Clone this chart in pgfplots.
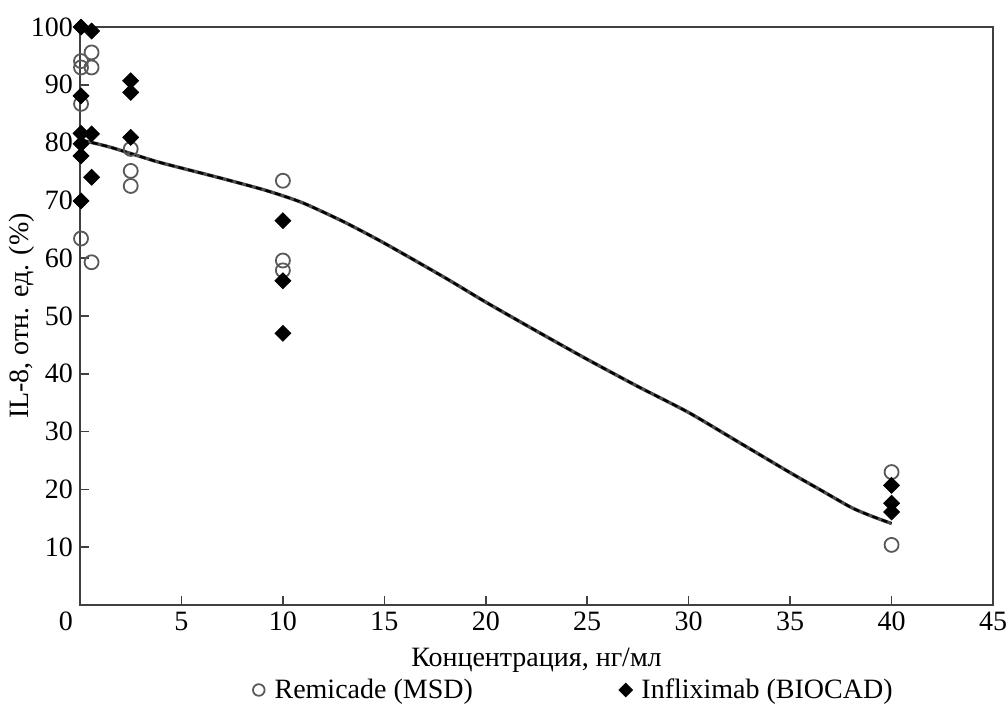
\documentclass[border=0pt]{standalone}
\usepackage{fontspec}
\setmainfont{Liberation Serif}
\usepackage{pgfplots}
\pgfplotsset{compat=1.18}

\begin{document}
\begin{tikzpicture}
\begin{axis}[
  name=ax,
  scale only axis,
  width=456.5pt, height=289pt,
  xmin=0, xmax=45, ymin=0, ymax=100,
  xtick={0,5,...,45},
  xticklabels={\makebox[0pt][r]{0\kern3.5pt},5,10,15,20,25,30,35,40,45},
  ytick={10,20,...,100},
  tick align=inside,
  tick pos=left,
  major tick length=4.5pt,
  axis line style={black!75, line width=0.8pt},
  every tick/.style={black!75, line width=0.8pt},
  font=\fontsize{14pt}{16pt}\selectfont,
  /pgf/number format/assume math mode=true,
  xlabel={Концентрация, нг/мл},
  ylabel={IL-8, отн. ед. (\%)},
  xlabel style={at={(axis description cs:0.5,-0.095)}, anchor=center},
  ylabel style={at={(axis description cs:-0.0635,0.5)}, anchor=center},
  legend columns=2,
  legend style={at={(axis description cs:0.5387,-0.147)}, anchor=center,
    draw=none, fill=none,
    /tikz/every even column/.append style={column sep=68.5pt}},
  legend image code/.code={%
    \path (0cm,0cm) (0.40cm,0cm);
    \draw[mark repeat=2,mark phase=2,#1] plot coordinates {(0cm,0cm) (0.20cm,0cm) (0.40cm,0cm)};},
  clip=false,
]

% Remicade (MSD)
\addplot[forget plot, only marks, mark=o, mark size=3.5pt,
  mark options={draw=black!65, line width=0.9pt}] coordinates {
  (0.05,94.1) (0.05,93.0) (0.05,86.7) (0.05,63.4)
  (0.57,95.6) (0.57,93.0) (0.57,59.3)
  (2.5,78.9) (2.5,75.1) (2.5,72.5)
  (10,73.4) (10,59.6) (10,57.9)
  (40,23.0) (40,10.4)
};

% Infliximab (BIOCAD)
\addplot[forget plot, only marks, mark=square*, mark size=2.8pt,
  mark options={rotate=45, fill=black, draw=black}] coordinates {
  (0.05,100) (0.05,88.1) (0.05,81.6) (0.05,79.8) (0.05,77.7) (0.05,69.9)
  (0.57,99.3) (0.57,81.5) (0.57,74.0)
  (2.5,90.7) (2.5,88.7) (2.5,80.9)
  (10,66.5) (10,56.1) (10,47.0)
  (40,20.7) (40,17.6) (40,16.1)
};

% fitted dose-response curves (two nearly coincident fits)
\addplot[forget plot, smooth, tension=0.4, black!70, line width=1.7pt] coordinates {
  (0.1,80.4) (1.5,79.2) (3.7,76.8) (5,75.6) (7,73.8) (8.9,72.0) (10,70.8)
  (11.1,69.4) (13,66.3) (15,62.6) (18,56.6) (20,52.4) (22.5,47.4) (25,42.5)
  (27.5,37.8) (30,33.3) (32.5,28.1) (35,22.9) (36.5,19.9) (38,16.9) (39,15.4) (40,14.1)
};
\addplot[forget plot, smooth, tension=0.4, black, line width=1.2pt, dash pattern=on 3pt off 2pt] coordinates {
  (0.1,80.4) (1.5,79.2) (3.7,76.8) (5,75.6) (7,73.8) (8.9,72.0) (10,70.8)
  (11.1,69.4) (13,66.3) (15,62.6) (18,56.6) (20,52.4) (22.5,47.4) (25,42.5)
  (27.5,37.8) (30,33.3) (32.5,28.1) (35,22.9) (36.5,19.9) (38,16.9) (39,15.4) (40,14.1)
};

\addlegendimage{only marks, mark=o, mark size=2.9pt, mark options={draw=black!65, line width=0.9pt}}
\addlegendentry{Remicade (MSD)}
\addlegendimage{only marks, mark=square*, mark size=2.4pt, mark options={rotate=45, fill=black, draw=black}}
\addlegendentry{Infliximab (BIOCAD)}
\end{axis}
\pgfresetboundingbox
\path ([shift={(-40pt,-52pt)}]ax.south west) rectangle ([shift={(7pt,13.5pt)}]ax.north east);
\end{tikzpicture}
\end{document}
